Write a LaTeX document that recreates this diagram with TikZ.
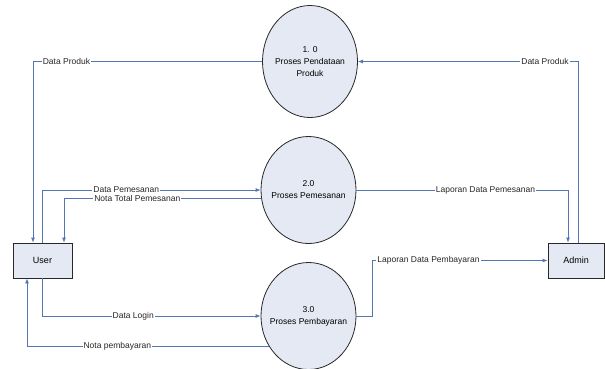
\documentclass[tikz,border=0pt]{standalone}
\usepackage{fontspec}
\setmainfont{Liberation Sans}
\usetikzlibrary{shapes.geometric,arrows.meta}
\definecolor{flowblue}{RGB}{84,118,178}
\definecolor{procfill}{RGB}{228,233,243}
\definecolor{edgegray}{RGB}{40,40,40}
\tikzset{
  proc/.style={ellipse,draw=edgegray,line width=0.8pt,fill=procfill,minimum width=95pt,minimum height=107pt,inner xsep=-16pt,inner ysep=0pt,align=center,font=\fontsize{8.5}{12}\selectfont},
  entity/.style={rectangle,draw=edgegray,line width=0.8pt,fill=procfill,minimum width=59pt,minimum height=35pt,inner sep=0pt,font=\fontsize{9}{11}\selectfont},
  flow/.style={draw=flowblue,line width=0.8pt,-{Latex[length=5pt,width=4pt]}},
  lbl/.style={fill=white,inner xsep=1pt,inner ysep=0.5pt,font=\fontsize{8.5}{10}\selectfont,text=black!85}
}
\begin{document}
\begin{tikzpicture}[x=1pt,y=-1pt]
\useasboundingbox (0,0) rectangle (605,368);
\node[proc,minimum height=112pt] (p1) at (310,61.5) {1. 0\\Proses Pendataan\\Produk};
\node[proc] (p2) at (308.5,190) {2.0\\Proses Pemesanan};
\node[proc] (p3) at (308.5,316) {3.0\\Proses Pembayaran};
\node[entity] (user) at (42.5,260.5) {User};
\node[entity,minimum width=56pt] (admin) at (576,260.5) {Admin};

\draw[flow] (p1.west) -| node[lbl,pos=0.427] (l1) {Data Produk} ([xshift=-9.5pt]user.north);
\draw[flow] (user.north) |- node[lbl,pos=0.692] (l2) {Data Pemesanan} (p2.west);
\draw[flow] (p2.190) -| node[lbl,pos=0.314] (l3) {Nota Total Pemesanan} ([xshift=21.5pt]user.north);
\draw[flow] ([xshift=2pt]admin.north) |- node[lbl,pos=0.575] (l4) {Data Produk} (p1.east);
\draw[flow] (p2.east) -| node[lbl,pos=0.305] (l5) {Laporan Data Pemesanan} ([xshift=-8pt]admin.north);
\draw[flow] (p3.east) -- ++(16,0) |- node[lbl,pos=0.66] (l6) {Laporan Data Pembayaran} (admin.west);
\draw[flow] (user.south) |- node[lbl,pos=0.708] (l7) {Data Login} (p3.west);
\draw[flow] (p3.217) -| node[lbl,pos=0.313] (l8) {Nota pembayaran} ([xshift=-15.5pt]user.south);
\end{tikzpicture}
\end{document}
